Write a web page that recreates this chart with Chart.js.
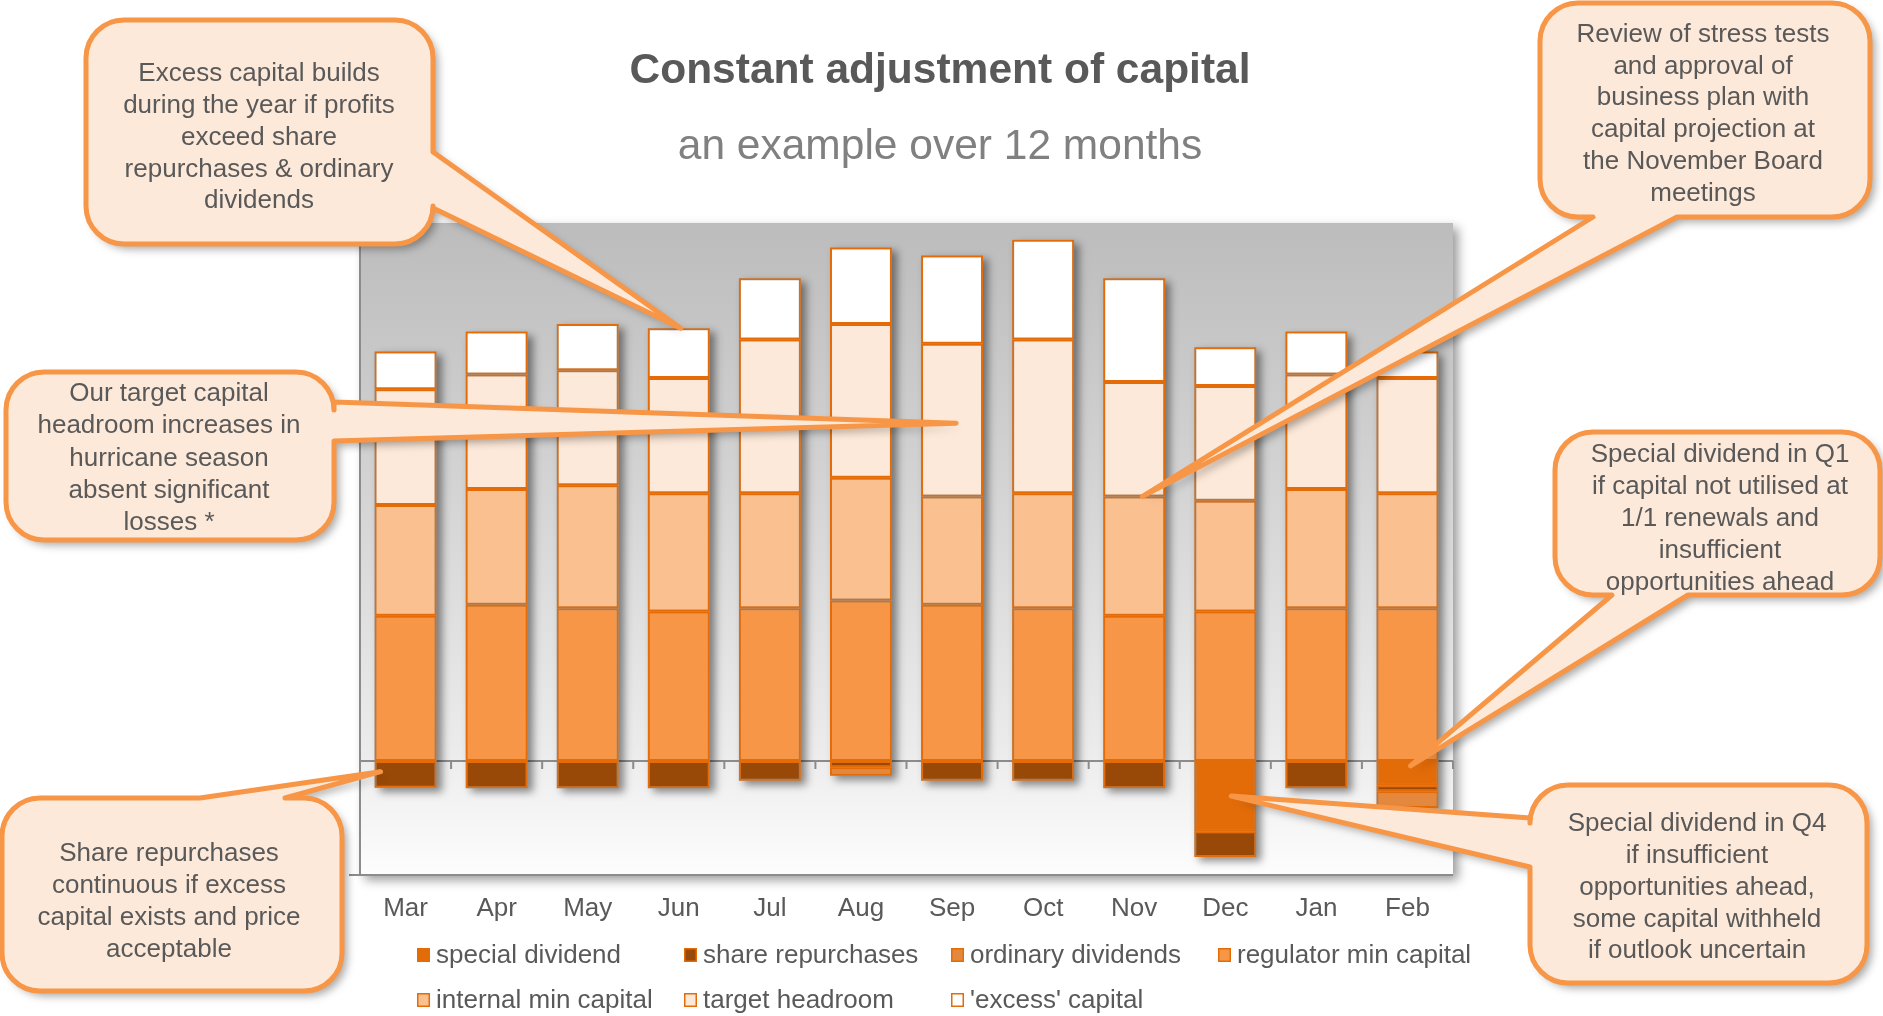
<!DOCTYPE html>
<html>
<head>
<meta charset="utf-8">
<title>Constant adjustment of capital</title>
<script src="https://cdn.jsdelivr.net/npm/chart.js@4.4.1/dist/chart.umd.min.js"></script>
<style>
  html, body { margin: 0; padding: 0; background: #fff; }
  #wrap { position: relative; width: 1883px; height: 1016px; }
</style>
</head>
<body>
<div id="wrap"><canvas id="capitalChart"></canvas></div>
<script>
const months = ["Mar", "Apr", "May", "Jun", "Jul", "Aug", "Sep", "Oct", "Nov", "Dec", "Jan", "Feb"];

// below zero
const specialDividend = [null, null, null, null, null, null, null, null, null, -16.7, null, -5.8];
const shareRepurchases = [-6.4, -6.5, -6.5, -6.5, -4.7, -1.5, -4.7, -4.7, -6.5, -6.1, -6.5, -1.4];
const ordinaryDividends = [null, null, null, null, null, -2.0, null, null, null, null, null, -4.0];
// above zero
const regulatorMin = [34.5, 37.1, 36.3, 35.5, 36.3, 38.1, 37.1, 36.3, 34.5, 35.5, 36.3, 36.3];
const internalMin = [26.3, 27.5, 29.2, 28.1, 27.3, 29.2, 25.7, 27.3, 28.3, 26.3, 28.3, 27.3];
const targetHeadroom = [27.5, 27.2, 27.3, 27.4, 36.5, 36.5, 36.3, 36.5, 27.2, 27.3, 27.2, 27.4];
const excessCapital = [9.0, 10.2, 11.0, 11.8, 14.6, 18.2, 21.0, 23.7, 24.7, 9.2, 10.2, 6.3];

const FONT = '"Liberation Sans", Arial, sans-serif';
const TEXT = "#595959";
const EDGE = "#E36C09";

const posTop = (i) => regulatorMin[i] + internalMin[i] + targetHeadroom[i] + excessCapital[i];

// callout boxes: x, y, w, h, side the pointer leaves from, pointer base, pointer tip (data based)
const callouts = [
  {
    box: [86, 20, 347, 224], side: "right", base: [152, 208],
    tip: { i: 3, dx: 2, v: posTop(3) },
    lines: ["Excess capital builds", "during the year if profits", "exceed share", "repurchases & ordinary", "dividends"],
    cx: 259, y0: 74, lh: 31.8,
  },
  {
    box: [6, 372, 328, 168], side: "right", base: [402, 441],
    tip: { i: 6, dx: 4, v: regulatorMin[6] + internalMin[6] + targetHeadroom[6] * 0.48 },
    lines: ["Our target capital", "headroom increases in", "hurricane season", "absent significant", "losses *"],
    cx: 169, y0: 394, lh: 32.2,
  },
  {
    box: [2, 798, 340, 193], side: "top", base: [200, 285],
    tip: { i: 0, dx: -25, v: shareRepurchases[0] * 0.4 },
    lines: ["Share repurchases", "continuous if excess", "capital exists and price", "acceptable"],
    cx: 169, y0: 854, lh: 32,
  },
  {
    box: [1540, 3, 330, 214], side: "bottom", base: [1593, 1677],
    tip: { i: 8, dx: 8, v: regulatorMin[8] + internalMin[8] },
    lines: ["Review of stress tests", "and approval of", "business plan with", "capital projection at", "the November Board", "meetings"],
    cx: 1703, y0: 34.5, lh: 31.9,
  },
  {
    box: [1555, 432, 325, 163], side: "bottom", base: [1612, 1688],
    tip: { i: 11, dx: 3, v: specialDividend[11] * 0.2 },
    lines: ["Special dividend in Q1", "if capital not utilised at", "1/1 renewals and", "insufficient", "opportunities ahead"],
    cx: 1720, y0: 454.5, lh: 32.1,
  },
  {
    box: [1530, 785, 337, 198], side: "left", base: [818, 867],
    tip: { i: 9, dx: 6, v: specialDividend[9] * 0.5 },
    lines: ["Special dividend in Q4", "if insufficient", "opportunities ahead,", "some capital withheld", "if outlook uncertain"],
    cx: 1697, y0: 824, lh: 31.8,
  },
];

function calloutPath(ctx, c, tip) {
  const [x, y, w, h] = c.box;
  const r = 38;
  const [b1, b2] = c.base;
  ctx.beginPath();
  ctx.moveTo(x + r, y);
  if (c.side === "top") { ctx.lineTo(b1, y); ctx.lineTo(tip[0], tip[1]); ctx.lineTo(b2, y); }
  ctx.lineTo(x + w - r, y);
  ctx.arcTo(x + w, y, x + w, y + r, r);
  if (c.side === "right") { ctx.lineTo(x + w, b1); ctx.lineTo(tip[0], tip[1]); ctx.lineTo(x + w, b2); }
  ctx.lineTo(x + w, y + h - r);
  ctx.arcTo(x + w, y + h, x + w - r, y + h, r);
  if (c.side === "bottom") { ctx.lineTo(b2, y + h); ctx.lineTo(tip[0], tip[1]); ctx.lineTo(b1, y + h); }
  ctx.lineTo(x + r, y + h);
  ctx.arcTo(x, y + h, x, y + h - r, r);
  if (c.side === "left") { ctx.lineTo(x, b2); ctx.lineTo(tip[0], tip[1]); ctx.lineTo(x, b1); }
  ctx.lineTo(x, y + r);
  ctx.arcTo(x, y, x + r, y, r);
  ctx.closePath();
}

const decorPlugin = {
  id: "decor",
  beforeDraw(chart) {
    const { ctx, chartArea: a, scales } = chart;
    // plot background with shadow
    ctx.save();
    ctx.shadowColor = "rgba(0,0,0,0.4)";
    ctx.shadowBlur = 10;
    ctx.shadowOffsetX = 5;
    ctx.shadowOffsetY = 5;
    const g = ctx.createLinearGradient(0, a.top, 0, a.bottom);
    g.addColorStop(0, "#BCBCBC");
    g.addColorStop(0.8, "#EBEBEB");
    g.addColorStop(1, "#FDFDFD");
    ctx.fillStyle = g;
    ctx.fillRect(a.left, a.top, a.right - a.left, a.bottom - a.top);
    ctx.restore();

    ctx.save();
    ctx.strokeStyle = "#8C8C8C";
    ctx.lineWidth = 2;
    ctx.beginPath();
    ctx.moveTo(a.left, a.top);
    ctx.lineTo(a.left, a.bottom);
    ctx.moveTo(a.left - 11, a.bottom);
    ctx.lineTo(a.right, a.bottom);
    // zero line with ticks between months
    const y0 = scales.y.getPixelForValue(0);
    ctx.moveTo(a.left, y0);
    ctx.lineTo(a.right, y0);
    for (let k = 0; k < months.length; k++) {
      const xb = scales.x.getPixelForValue(k + 0.5);
      ctx.moveTo(xb, y0);
      ctx.lineTo(xb, y0 + 8);
    }
    ctx.stroke();
    ctx.restore();
  },
  beforeDatasetsDraw(chart) {
    // shadow behind each whole stack
    const { ctx } = chart;
    ctx.save();
    ctx.shadowColor = "rgba(0,0,0,0.45)";
    ctx.shadowBlur = 8;
    ctx.shadowOffsetX = 5;
    ctx.shadowOffsetY = 4;
    ctx.fillStyle = "#999";
    for (let i = 0; i < months.length; i++) {
      let top = Infinity, bottom = -Infinity, left = 0, width = 0;
      chart.data.datasets.forEach((ds, d) => {
        if (ds.data[i] == null) return;
        const el = chart.getDatasetMeta(d).data[i];
        const p = el.getProps(["x", "y", "base", "width"], true);
        top = Math.min(top, p.y, p.base);
        bottom = Math.max(bottom, p.y, p.base);
        left = p.x - p.width / 2;
        width = p.width;
      });
      if (width) ctx.fillRect(left, top, width, bottom - top);
    }
    ctx.restore();
  },
  afterDraw(chart) {
    const { ctx, scales } = chart;
    ctx.save();
    ctx.textAlign = "center";
    ctx.textBaseline = "middle";
    ctx.fillStyle = TEXT;
    ctx.font = "bold 42.5px " + FONT;
    ctx.fillText("Constant adjustment of capital", 940, 71);
    ctx.fillStyle = "#808080";
    ctx.font = "42.5px " + FONT;
    ctx.fillText("an example over 12 months", 940, 147);

    // legend in a grid of 4 columns
    const cols = [417, 684, 951, 1218];
    const rows = [955, 1000];
    ctx.textAlign = "left";
    ctx.font = "26px " + FONT;
    chart.data.datasets.forEach((ds, d) => {
      const lx = cols[d % 4];
      const ly = rows[Math.floor(d / 4)];
      ctx.fillStyle = ds.backgroundColor;
      ctx.fillRect(lx, ly - 7, 13, 14);
      ctx.strokeStyle = EDGE;
      ctx.lineWidth = 1.5;
      ctx.strokeRect(lx + 0.75, ly - 6.25, 11.5, 12.5);
      ctx.fillStyle = TEXT;
      ctx.fillText(ds.label, lx + 19, ly + 1);
    });

    // callouts
    callouts.forEach((c) => {
      const tip = [scales.x.getPixelForValue(c.tip.i) + c.tip.dx, scales.y.getPixelForValue(c.tip.v)];
      ctx.save();
      ctx.shadowColor = "rgba(0,0,0,0.35)";
      ctx.shadowBlur = 9;
      ctx.shadowOffsetX = 5;
      ctx.shadowOffsetY = 5;
      calloutPath(ctx, c, tip);
      ctx.fillStyle = "#FDE9D9";
      ctx.fill();
      ctx.restore();
      calloutPath(ctx, c, tip);
      ctx.lineJoin = "round";
      ctx.strokeStyle = "#F79646";
      ctx.lineWidth = 5;
      ctx.stroke();
      ctx.fillStyle = TEXT;
      ctx.textAlign = "center";
      ctx.font = "26px " + FONT;
      c.lines.forEach((t, k) => ctx.fillText(t, c.cx, c.y0 + k * c.lh));
    });
    ctx.restore();
  },
};

const capitalChart = document.getElementById("capitalChart");

const barDefaults = {
  borderColor: EDGE,
  borderWidth: 2,
  borderSkipped: false,
  barPercentage: 0.68,
  categoryPercentage: 1,
};

new Chart(capitalChart, {
  type: "bar",
  data: {
    labels: months,
    datasets: [
      { label: "special dividend", data: specialDividend, backgroundColor: "#E36C09", ...barDefaults },
      { label: "share repurchases", data: shareRepurchases, backgroundColor: "#984807", ...barDefaults },
      { label: "ordinary dividends", data: ordinaryDividends, backgroundColor: "#E3883C", ...barDefaults },
      { label: "regulator min capital", data: regulatorMin, backgroundColor: "#F79646", ...barDefaults },
      { label: "internal min capital", data: internalMin, backgroundColor: "#FAC090", ...barDefaults },
      { label: "target headroom", data: targetHeadroom, backgroundColor: "#FDE9D9", ...barDefaults },
      { label: "'excess' capital", data: excessCapital, backgroundColor: "#FFFFFF", ...barDefaults },
    ],
  },
  options: {
    responsive: true,
    maintainAspectRatio: false,
    animation: false,
    events: [],
    layout: {
      padding: { left: 360, right: 430, top: 223, bottom: 0 },
    },
    plugins: {
      legend: { display: false },
      tooltip: { enabled: false },
      title: { display: false },
    },
    scales: {
      x: {
        stacked: true,
        grid: { display: false, drawTicks: false },
        border: { display: false },
        ticks: { color: TEXT, font: { family: FONT, size: 26 }, padding: 18 },
        afterFit: (axis) => { axis.height = 141; },
      },
      y: {
        stacked: true,
        display: false,
        min: -27.1,
        max: 127.8,
      },
    },
  },
  plugins: [decorPlugin],
});
</script>
</body>
</html>
